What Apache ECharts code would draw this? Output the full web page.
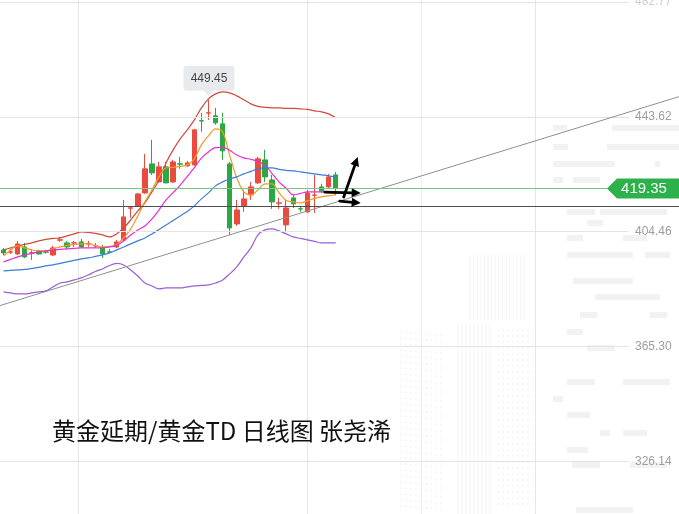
<!DOCTYPE html>
<html>
<head>
<meta charset="utf-8">
<script src="https://cdn.jsdelivr.net/npm/echarts/dist/echarts.min.js"></script>
<style>
html,body{margin:0;padding:0;background:#fff;}
#c{width:679px;height:514px;}
</style>
</head>
<body>
<div id="c"></div>
<script>
// ---------------- data ----------------
const slotCount = 89; // visible category slots (48 candles + empty future space)
const categories = Array.from({length: slotCount}, (_, i) => 'K' + (i + 1));

// [open, close, low, high]
const ohlc = [
  [398.26, 397.24, 396.55, 398.90],
  [397.50, 397.60, 396.90, 398.60],
  [396.89, 400.31, 396.55, 401.33],
  [399.28, 395.87, 395.53, 400.65],
  [397.20, 397.30, 394.85, 398.26],
  [397.92, 396.89, 396.60, 398.30],
  [397.60, 397.50, 397.00, 398.30],
  [396.55, 398.94, 396.21, 399.62],
  [401.60, 401.70, 401.00, 402.70],
  [400.65, 399.28, 398.60, 401.33],
  [400.60, 400.70, 399.30, 401.33],
  [400.99, 399.28, 398.90, 402.00],
  [400.30, 400.40, 399.30, 401.33],
  [399.60, 399.70, 398.90, 400.60],
  [398.94, 396.89, 395.53, 399.97],
  [397.60, 397.50, 397.20, 398.60],
  [399.28, 400.99, 398.90, 401.67],
  [401.67, 409.51, 401.33, 415.31],
  [412.50, 412.60, 409.20, 412.90],
  [413.27, 417.36, 412.90, 417.70],
  [417.70, 425.89, 417.40, 431.00],
  [427.59, 424.52, 423.84, 435.78],
  [421.45, 426.57, 421.11, 428.27],
  [426.57, 421.11, 421.00, 428.27],
  [421.45, 428.27, 421.11, 428.95],
  [427.60, 427.50, 425.89, 429.98],
  [426.91, 427.93, 426.60, 428.61],
  [427.25, 439.19, 426.91, 439.53],
  [442.30, 442.20, 438.50, 444.98],
  [444.90, 445.00, 442.60, 449.45],
  [443.96, 441.57, 440.89, 446.69],
  [441.23, 432.02, 428.95, 444.98],
  [427.59, 405.76, 403.38, 428.27],
  [407.13, 411.90, 406.50, 415.31],
  [413.27, 415.66, 411.22, 418.72],
  [417.02, 419.75, 415.31, 421.45],
  [421.11, 429.30, 420.77, 429.98],
  [428.95, 423.16, 421.45, 432.37],
  [422.13, 414.63, 412.24, 423.84],
  [414.20, 414.30, 412.24, 416.00],
  [406.79, 412.58, 404.40, 415.31],
  [416.00, 413.95, 412.58, 417.02],
  [412.30, 412.20, 411.22, 413.27],
  [411.22, 417.70, 410.88, 418.72],
  [416.90, 417.00, 410.88, 423.84],
  [419.75, 418.38, 417.70, 420.77],
  [419.75, 423.16, 419.06, 424.18],
  [423.84, 419.35, 417.02, 424.86]
];

const upperBand = [398.26, 398.94, 399.62, 400.14, 400.65, 401.33, 401.84, 402.18, 402.35, 403.03,
  403.72, 404.40, 404.23, 403.89, 403.38, 402.69, 403.72, 405.76, 408.49, 411.56,
  414.29, 418.04, 422.13, 427.93, 432.37, 436.12, 439.19, 442.60, 446.69, 449.76,
  451.46, 452.15, 451.81, 450.78, 449.42, 448.05, 447.20, 446.86, 446.69, 446.69,
  446.52, 446.52, 446.35, 446.18, 445.67, 445.33, 444.64, 443.28];

const ma5 = [396.21, 398.26, 399.62, 398.94, 398.26, 397.92, 397.92, 398.60, 399.28, 399.80,
  400.14, 400.31, 400.31, 399.80, 399.28, 399.45, 400.14, 402.35, 405.42, 409.85,
  414.63, 418.72, 423.16, 426.23, 426.40, 426.74, 427.25, 429.30, 434.07, 437.14,
  439.53, 438.50, 430.50, 422.81, 418.04, 417.02, 418.72, 420.77, 420.77, 417.70,
  415.14, 414.63, 414.29, 414.97, 415.82, 416.34, 416.68, 417.02];

const ma10 = [394.17, 395.02, 395.87, 396.55, 397.07, 397.58, 397.92, 398.26, 398.43, 398.60,
  398.77, 398.94, 398.94, 398.94, 398.94, 399.28, 399.80, 401.33, 403.38, 405.08,
  406.44, 408.83, 411.90, 415.31, 417.77, 420.32, 423.33, 426.28, 429.57, 431.65,
  433.15, 433.20, 432.26, 430.60, 429.64, 429.13, 428.44, 427.20, 424.28, 421.38,
  419.30, 417.02, 417.53, 418.04, 418.04, 418.04, 417.87, 417.70];

const ma20 = [391.10, 391.27, 391.44, 391.61, 391.95, 392.29, 392.80, 393.14, 393.65, 394.17,
  394.68, 395.19, 395.53, 396.04, 396.55, 397.24, 398.26, 399.28, 400.31, 401.33,
  402.35, 403.72, 405.25, 406.79, 408.30, 409.85, 411.39, 413.27, 415.66, 417.70,
  420.09, 421.45, 422.47, 423.16, 424.18, 425.03, 425.89, 426.23, 426.23, 425.71,
  425.37, 425.20, 424.86, 424.52, 424.18, 423.84, 423.50, 422.99];

const lowerBand = [383.94, 383.60, 383.25, 383.25, 383.60, 383.94, 384.28, 385.64, 387.00, 387.34,
  388.03, 388.71, 389.73, 390.93, 391.78, 392.97, 393.65, 393.14, 391.44, 389.39,
  387.00, 385.98, 384.96, 385.30, 385.30, 385.30, 385.64, 385.98, 386.15, 386.32,
  387.00, 388.03, 390.08, 392.46, 395.87, 398.94, 403.38, 405.08, 405.42, 404.74,
  403.72, 402.69, 402.18, 401.67, 401.16, 400.65, 400.65, 400.65];

const yTicks = [326.14, 365.30, 404.46, 443.62, 482.77];
const yTickLabels = ['326.14', '365.30', '404.46', '443.62', '482.77'];

const lastPrice = 419.35;
const lastPriceLabel = '419.35';
const refLevel = 413.07;
const trendStart = [0, 379.66];   // [category index, value]
const trendEnd = [47, 414.50];
const peakPoint = [29, 449.45];
const peakLabel = '449.45';
const titleText = '黄金延期/黄金TD 日线图 张尧浠';

// ---------------- chart ----------------
const chart = echarts.init(document.getElementById('c'), null, {renderer: 'canvas'});
const numFont = '"Liberation Sans", Arial, Helvetica, sans-serif';

function lineSeries(name, data, color) {
  return {
    type: 'line', name: name, data: data, symbol: 'none', smooth: 0.35,
    lineStyle: {color: color, width: 1.2}, itemStyle: {color: color},
    z: 3, silent: true, emphasis: {disabled: true}
  };
}

const option = {
  animation: false,
  grid: {left: -2, right: 50, top: 2, bottom: 52.5, containLabel: false},
  xAxis: {type: 'category', data: categories, boundaryGap: true, show: false},
  yAxis: {type: 'value', min: yTicks[0], max: yTicks[yTicks.length - 1], show: false,
    splitLine: {show: false}},
  series: [
    {
      type: 'line', data: [], z: 1, silent: true,
      markLine: {
        silent: true, symbol: ['none', 'none'], animation: false,
        emphasis: {disabled: true},
        lineStyle: {color: '#e4e4e4', width: 1, type: 'solid'},
        label: {show: true, position: 'end', distance: 6, fontSize: 12,
          fontFamily: numFont, color: '#9d9d9d'},
        data: yTicks.map((v, i) => ({
          yAxis: v,
          label: {formatter: yTickLabels[i],
            color: i === yTicks.length - 1 ? '#cfcfcf' : '#9d9d9d'}
        }))
      }
    },
    {
      type: 'candlestick', data: ohlc, barWidth: 5, z: 2, silent: true,
      itemStyle: {color: '#eb4b3f', color0: '#2aa844', borderColor: '#eb4b3f',
        borderColor0: '#2aa844', borderWidth: 1}
    },
    lineSeries('上轨', upperBand, '#cf4a3c'),
    lineSeries('MA5', ma5, '#f39a22'),
    lineSeries('MA10', ma10, '#e52fd6'),
    lineSeries('MA20', ma20, '#3b7dd8'),
    lineSeries('下轨', lowerBand, '#9a5ed8')
  ]
};
chart.setOption(option);

// ---------------- overlays positioned through the chart's scales ----------------
const P = (c, v) => chart.convertToPixel({gridIndex: 0}, [c, v]);
const W = chart.getWidth();
const els = [];

// faint background watermark (decorative city silhouette): [x1, x2, y]
const bgBars = [
  [553, 567, 125], [612, 679, 125],
  [553, 568, 144], [607, 679, 144],
  [553, 615, 161], [655, 660, 161],
  [553, 563, 177], [573, 600, 177],
  [567, 595, 209], [600, 667, 209],
  [587, 603, 220],
  [567, 583, 235], [623, 647, 235],
  [567, 633, 252], [645, 670, 252],
  [573, 633, 278],
  [595, 660, 294],
  [580, 597, 312], [650, 667, 312],
  [567, 583, 329],
  [587, 615, 345],
  [567, 595, 379], [623, 670, 379],
  [553, 563, 396],
  [567, 590, 412],
  [600, 610, 430], [623, 647, 430],
  [567, 588, 447],
  [572, 600, 462], [630, 667, 462],
  [576, 633, 507]
];
bgBars.forEach(b => {
  els.push({type: 'rect', z: -10, silent: true,
    shape: {x: b[0], y: b[2], width: b[1] - b[0], height: 6},
    style: {fill: '#f2f2f2'}});
});
for (let k = 0; k < 16; k++) {
  const x = 470 + k * 3.6;
  els.push({type: 'line', z: -10, silent: true,
    shape: {x1: x, y1: 255, x2: x, y2: 320}, style: {stroke: '#f4f4f4', lineWidth: 1}});
}
for (let k = 0; k < 9; k++) {
  const x = 458 + k * 4;
  els.push({type: 'line', z: -10, silent: true,
    shape: {x1: x, y1: 322, x2: x, y2: 514}, style: {stroke: '#f4f4f4', lineWidth: 1}});
}
for (let r = 0; r < 30; r++) {
  const y = 330 + r * 6;
  els.push({type: 'line', z: -10, silent: true,
    shape: {x1: 497, y1: y, x2: 530, y2: y}, style: {stroke: '#f5f5f5', lineWidth: 2, lineDash: [2, 3]}});
  els.push({type: 'line', z: -10, silent: true,
    shape: {x1: 400, y1: y + 2, x2: 442, y2: y + 5}, style: {stroke: '#f6f6f6', lineWidth: 2, lineDash: [2, 3]}});
}

// vertical grid lines
[78, 307, 421, 535].forEach((x, i) => {
  els.push({type: 'line', z: 0, silent: true,
    shape: {x1: x + 0.5, y1: 0, x2: x + 0.5, y2: 514},
    style: {stroke: i === 2 ? '#efefef' : '#e6e6e6', lineWidth: 1}});
});

// trend line
const t0 = P(trendStart[0], trendStart[1]);
const t1 = P(trendEnd[0], trendEnd[1]);
const slope = (t1[1] - t0[1]) / (t1[0] - t0[0]);
els.push({type: 'line', z: 50, silent: true,
  shape: {x1: 0, y1: t0[1] - slope * t0[0], x2: W, y2: t0[1] + slope * (W - t0[0])},
  style: {stroke: '#8f8f8f', lineWidth: 1}});

// reference level line
const yRef = Math.round(P(0, refLevel)[1]) + 0.5;
els.push({type: 'line', z: 50, silent: true,
  shape: {x1: 0, y1: yRef, x2: W, y2: yRef},
  style: {stroke: '#4f4f4f', lineWidth: 1}});

// last price line + tag
const yLast = Math.round(P(0, lastPrice)[1]) + 0.5;
els.push({type: 'line', z: 50, silent: true,
  shape: {x1: 0, y1: yLast, x2: 612, y2: yLast},
  style: {stroke: '#74c983', lineWidth: 1}});
els.push({type: 'polygon', z: 60, silent: true,
  shape: {points: [[607, yLast], [617, yLast - 10], [W, yLast - 10], [W, yLast + 10], [617, yLast + 10]]},
  style: {fill: '#2db14b'}});
els.push({type: 'text', z: 61, silent: true, x: 644, y: yLast,
  style: {text: lastPriceLabel, fill: '#ffffff', font: '15px ' + numFont,
    align: 'center', verticalAlign: 'middle', textAlign: 'center', textVerticalAlign: 'middle'}});

// peak callout
const pk = P(peakPoint[0], peakPoint[1]);
els.push({type: 'rect', z: 60, silent: true,
  shape: {x: pk[0] - 25, y: pk[1] - 34, width: 51, height: 25, r: 3},
  style: {fill: '#e8eaed'}});
els.push({type: 'polygon', z: 60, silent: true,
  shape: {points: [[pk[0] - 5, pk[1] - 9.5], [pk[0] + 5, pk[1] - 9.5], [pk[0], pk[1] - 3.5]]},
  style: {fill: '#e8eaed'}});
els.push({type: 'text', z: 61, silent: true, x: pk[0] + 0.5, y: pk[1] - 21.5,
  style: {text: peakLabel, fill: '#444444', font: '12px ' + numFont,
    align: 'center', verticalAlign: 'middle', textAlign: 'center', textVerticalAlign: 'middle'}});

// hand-drawn arrows next to the last candle
const last = P(ohlc.length - 1, lastPrice);
function arrow(x1, y1, x2, y2) {
  const dx = x2 - x1, dy = y2 - y1, L = Math.hypot(dx, dy), ux = dx / L, uy = dy / L;
  const hl = 9, hw = 4.5;
  const bx = x2 - ux * hl, by = y2 - uy * hl;
  els.push({type: 'line', z: 70, silent: true,
    shape: {x1: x1, y1: y1, x2: bx + ux, y2: by + uy},
    style: {stroke: '#000', lineWidth: 2.8, lineCap: 'round'}});
  els.push({type: 'polygon', z: 70, silent: true,
    shape: {points: [[x2, y2], [bx - uy * hw, by + ux * hw], [bx + uy * hw, by - ux * hw]]},
    style: {fill: '#000'}});
}
arrow(last[0] + 8, last[1] + 9, last[0] + 22, last[1] - 31);
arrow(last[0] - 11, last[1] + 4, last[0] + 25, last[1] + 5);
arrow(last[0] + 4, last[1] + 13, last[0] + 25, last[1] + 15);

// title
els.push({type: 'text', z: 80, silent: true, x: 52, y: 431,
  style: {text: titleText, fill: '#111111', font: '24px "Noto Sans CJK SC", sans-serif',
    align: 'left', verticalAlign: 'middle', textAlign: 'left', textVerticalAlign: 'middle'}});

chart.setOption({graphic: {elements: els}});
</script>
</body>
</html>
